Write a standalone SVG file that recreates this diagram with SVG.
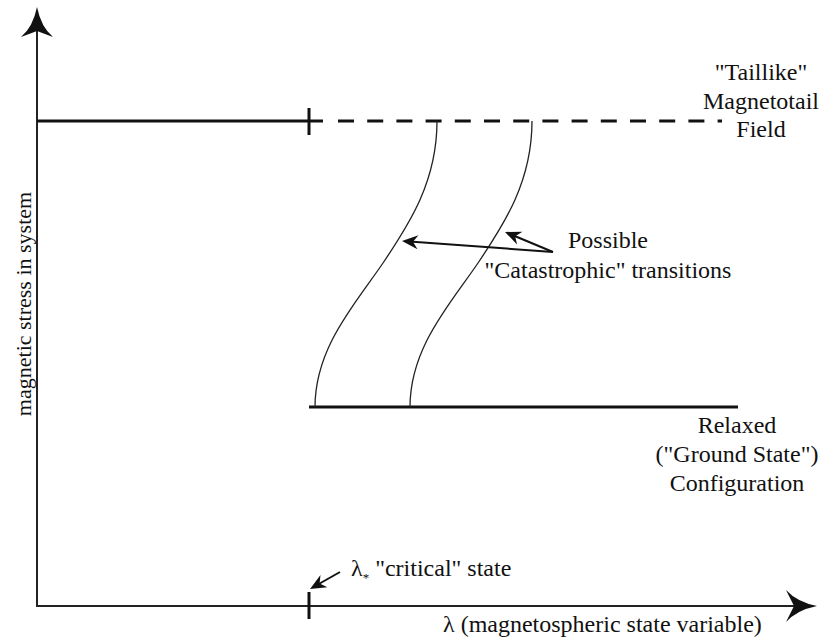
<svg xmlns="http://www.w3.org/2000/svg" width="825" height="642" viewBox="0 0 825 642">
<style>
text{font-family:'Liberation Serif','DejaVu Serif','Times New Roman',serif;font-size:24px;fill:#111}
.ax{stroke:#222;stroke-width:2;fill:none}
.thick{stroke:#111;stroke-width:3;fill:none}
.curve{stroke:#222;stroke-width:1.3;fill:none}
.arr{stroke:#111;stroke-width:2;fill:none;marker-end:url(#ah)}
.mid{text-anchor:middle}
</style>
<defs>
<marker id="ah" markerUnits="userSpaceOnUse" markerWidth="18" markerHeight="16" viewBox="-17 -8 18 16" refX="-4" refY="0" orient="auto">
<path d="M0,0 L-16,-7 L-11,0 L-16,7 Z" fill="#111"/>
</marker>
</defs>
<g id="axes">
<line class="ax" x1="37" y1="30" x2="37" y2="607"/>
<path d="M37,7 Q41,27 53,37 L37,31 L21,37 Q33,27 37,7 Z" fill="#111"/>
<line class="ax" x1="36" y1="606" x2="795" y2="606"/>
<path d="M817,606 Q797,610 786,622 L794,606 L786,590 Q797,602 817,606 Z" fill="#111"/>
<line class="thick" x1="309" y1="592" x2="309" y2="619"/>
</g>
<g id="taillike-line">
<line class="thick" x1="37" y1="121" x2="323" y2="121"/>
<line class="thick" x1="309" y1="108" x2="309" y2="135"/>
<line class="thick" x1="338" y1="121" x2="722" y2="121" stroke-dasharray="16 13.2"/>
</g>
<g id="ground-line">
<line class="thick" x1="309" y1="407" x2="738" y2="407"/>
</g>
<g id="transitions">
<path class="curve" d="M437,121 C437,181 410,223 383,263 C356,303 315,347 315,407"/>
<path class="curve" transform="translate(95,0)" d="M437,121 C437,181 410,223 383,263 C356,303 315,347 315,407"/>
</g>
<g id="connectors">
<line class="arr" x1="553" y1="252" x2="406" y2="241.3"/>
<line class="arr" x1="553" y1="252" x2="508.7" y2="233.5"/>
<line class="arr" x1="340" y1="572" x2="313.5" y2="587"/>
</g>
<g id="label-taillike">
<text class="mid" x="761" y="80">"Taillike"</text>
<text class="mid" x="761" y="108.5">Magnetotail</text>
<text class="mid" x="761" y="137">Field</text>
</g>
<g id="label-possible">
<text class="mid" x="608" y="248">Possible</text>
<text class="mid" x="608" y="278">"Catastrophic" transitions</text>
</g>
<g id="label-relaxed">
<text class="mid" x="737" y="433">Relaxed</text>
<text class="mid" x="737" y="462">("Ground State")</text>
<text class="mid" x="737" y="491">Configuration</text>
</g>
<g id="label-critical">
<text x="351" y="576">λ<tspan font-size="13" style="font-size:13px" dy="6">*</tspan><tspan dy="-6"> "critical" state</tspan></text>
</g>
<g id="label-x">
<text x="443" y="632">λ (magnetospheric state variable)</text>
</g>
<g id="label-y">
<text class="mid" transform="translate(31,304) rotate(-90)" style="font-size:22px">magnetic stress in system</text>
</g>
</svg>
